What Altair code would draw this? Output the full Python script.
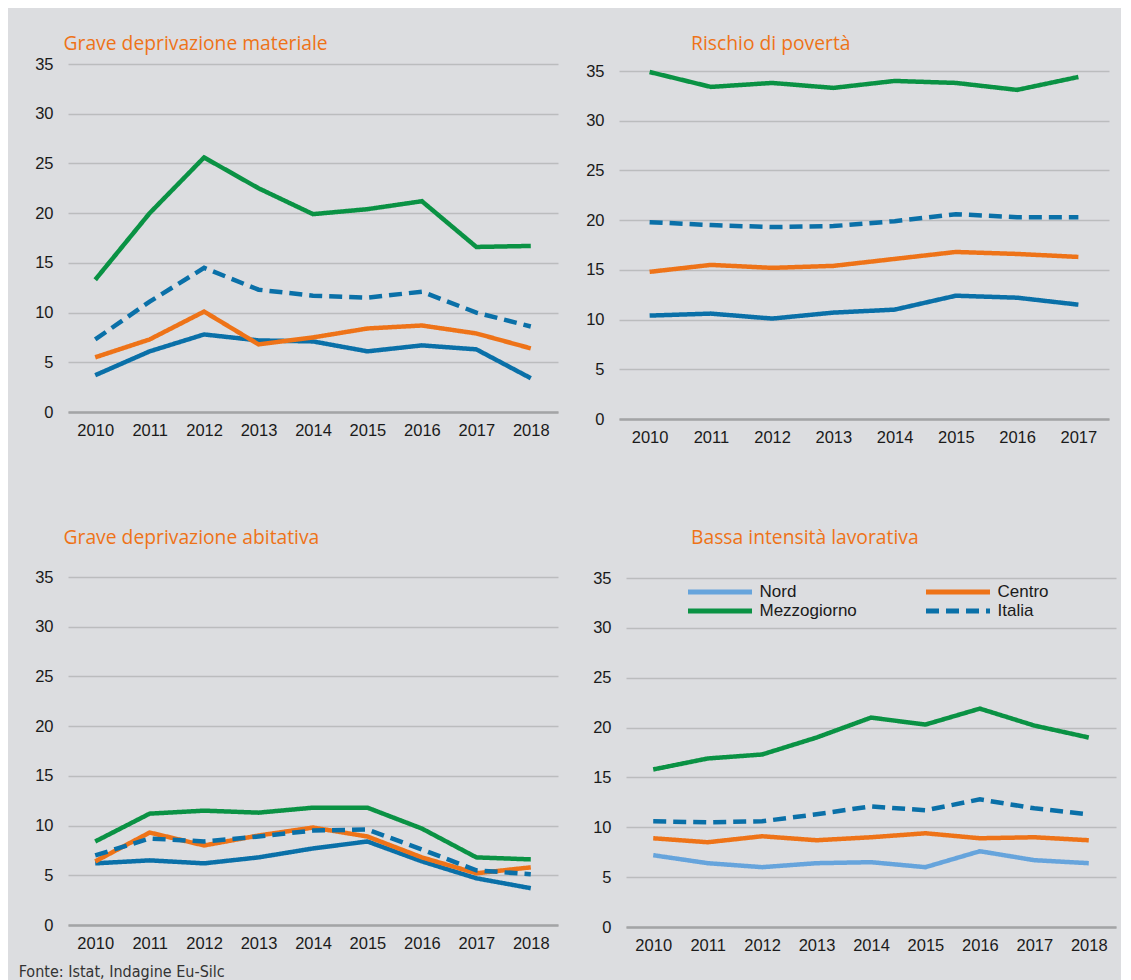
import altair as alt
import pandas as pd

# ---------------- data ----------------
years9 = ["2010", "2011", "2012", "2013", "2014", "2015", "2016", "2017", "2018"]
years8 = ["2010", "2011", "2012", "2013", "2014", "2015", "2016", "2017"]
series = ["Nord", "Centro", "Mezzogiorno", "Italia"]
legend_order = ["Nord", "Mezzogiorno", "Centro", "Italia"]

# Grave deprivazione materiale
gdm_nord = [3.7, 6.1, 7.8, 7.2, 7.1, 6.1, 6.7, 6.3, 3.4]
gdm_centro = [5.5, 7.3, 10.1, 6.8, 7.5, 8.4, 8.7, 7.9, 6.4]
gdm_mezzogiorno = [13.3, 20.0, 25.6, 22.5, 19.9, 20.4, 21.2, 16.6, 16.7]
gdm_italia = [7.3, 11.1, 14.5, 12.3, 11.7, 11.5, 12.1, 10.0, 8.6]

# Rischio di povertà
rp_nord = [10.4, 10.6, 10.1, 10.7, 11.0, 12.4, 12.2, 11.5]
rp_centro = [14.8, 15.5, 15.2, 15.4, 16.1, 16.8, 16.6, 16.3]
rp_mezzogiorno = [34.9, 33.4, 33.8, 33.3, 34.0, 33.8, 33.1, 34.4]
rp_italia = [19.8, 19.5, 19.3, 19.4, 19.9, 20.6, 20.3, 20.3]

# Grave deprivazione abitativa
gda_nord = [6.2, 6.5, 6.2, 6.8, 7.7, 8.4, 6.4, 4.7, 3.7]
gda_centro = [6.4, 9.3, 8.0, 9.0, 9.8, 8.9, 6.8, 5.2, 5.8]
gda_mezzogiorno = [8.4, 11.2, 11.5, 11.3, 11.8, 11.8, 9.7, 6.8, 6.6]
gda_italia = [7.0, 8.7, 8.4, 8.9, 9.5, 9.6, 7.6, 5.5, 5.1]

# Bassa intensità lavorativa
bil_nord = [7.2, 6.4, 6.0, 6.4, 6.5, 6.0, 7.6, 6.7, 6.4]
bil_centro = [8.9, 8.5, 9.1, 8.7, 9.0, 9.4, 8.9, 9.0, 8.7]
bil_mezzogiorno = [15.8, 16.9, 17.3, 19.0, 21.0, 20.3, 21.9, 20.2, 19.0]
bil_italia = [10.6, 10.5, 10.6, 11.3, 12.1, 11.7, 12.8, 11.9, 11.3]

titles = ["Grave deprivazione materiale", "Rischio di povertà",
          "Grave deprivazione abitativa", "Bassa intensità lavorativa"]
source = "Fonte: Istat, Indagine Eu-Silc"

# ---------------- style ----------------
BG = "#dcdde0"
ORANGE = "#ee7318"
GREEN = "#0a9244"
BLUE = "#0a70a8"
LIGHTBLUE = "#66a4dc"
TXT = "#1a1a1a"

# colours / dashes listed in legend_order
colors_std = [BLUE, GREEN, ORANGE, BLUE]
colors_bil = [LIGHTBLUE, GREEN, ORANGE, BLUE]
dashes = [[1, 0], [1, 0], [1, 0], [13, 7]]

TITLE_FONT = "Open Sans"
TITLE_SIZE = 19.3
LABEL_SIZE = 16.5


def make_df(years, values):
    rows = []
    for s, vals in zip(series, values):
        for y, v in zip(years, vals):
            rows.append({"anno": y, "serie": s, "valore": v})
    return pd.DataFrame(rows)


def panel(title, years, values, colors, title_dx, title_offset, height=348,
          top_inset=0, legend=None):
    df = make_df(years, values)
    return alt.Chart(
        df,
        title=alt.Title(title, anchor="start", frame="group", dx=title_dx,
                        offset=title_offset, font=TITLE_FONT, fontSize=TITLE_SIZE,
                        fontWeight="normal", color=ORANGE),
    ).mark_line(strokeWidth=4.5).encode(
        x=alt.X("anno:O", sort=years, title=None,
                scale=alt.Scale(type="point", padding=0.5),
                axis=alt.Axis(labelAngle=0, ticks=False, grid=False, domain=True,
                              domainColor="#a3a4a6", domainWidth=2.5, labelPadding=10)),
        y=alt.Y("valore:Q", title=None,
                scale=alt.Scale(domain=[0, 35], nice=False, range=[height, top_inset]),
                axis=alt.Axis(values=[0, 5, 10, 15, 20, 25, 30, 35], ticks=False,
                              domain=False, grid=True, gridColor="#bbbcbe",
                              gridWidth=1.5, labelPadding=15)),
        color=alt.Color("serie:N", sort=legend_order,
                        scale=alt.Scale(domain=legend_order, range=colors), legend=legend),
        strokeDash=alt.StrokeDash("serie:N", sort=legend_order,
                                  scale=alt.Scale(domain=legend_order, range=dashes),
                                  legend=legend),
    ).properties(width=490, height=height)


legend = alt.Legend(title=None, orient="none", legendX=59.5, legendY=7, columns=2,
                    columnPadding=66, rowPadding=2, symbolType="stroke",
                    symbolSize=4096, symbolStrokeWidth=5, clipHeight=16,
                    labelFontSize=17, labelFont="Liberation Sans", labelColor=TXT,
                    labelOffset=5, padding=0)

p1 = panel(titles[0], years9, [gdm_nord, gdm_centro, gdm_mezzogiorno, gdm_italia],
           colors_std, -4.5, 2)
p2 = panel(titles[1], years8, [rp_nord, rp_centro, rp_mezzogiorno, rp_italia],
           colors_std, 72, 9, height=355, top_inset=7)
p3 = panel(titles[2], years9, [gda_nord, gda_centro, gda_mezzogiorno, gda_italia],
           colors_std, -4.5, 21)
p4 = panel(titles[3], years9, [bil_nord, bil_centro, bil_mezzogiorno, bil_italia],
           colors_bil, 65, 22, height=350, top_inset=1, legend=legend)

res = dict(color="independent", strokeDash="independent", x="independent", y="independent")

row1 = alt.hconcat(p1, p2, spacing=27).resolve_scale(**res)
row2 = alt.hconcat(p3, p4, spacing=34).resolve_scale(**res)

chart = alt.vconcat(
    row1, row2, spacing=82,
    title=alt.Title(source, orient="bottom", anchor="start", dx=-16, offset=10,
                    font="DejaVu Sans Condensed, Liberation Sans Narrow, Liberation Sans",
                    fontSize=16, fontWeight="normal", color="#333333"),
).resolve_scale(**res).configure(
    background=BG,
    padding={"left": 10, "top": 26, "right": 5, "bottom": 0},
).configure_view(stroke=None).configure_axis(
    labelFont="Liberation Sans", labelFontSize=LABEL_SIZE, labelColor=TXT
)

chart.save("out.html", embed_options={"renderer": "svg", "actions": False})
